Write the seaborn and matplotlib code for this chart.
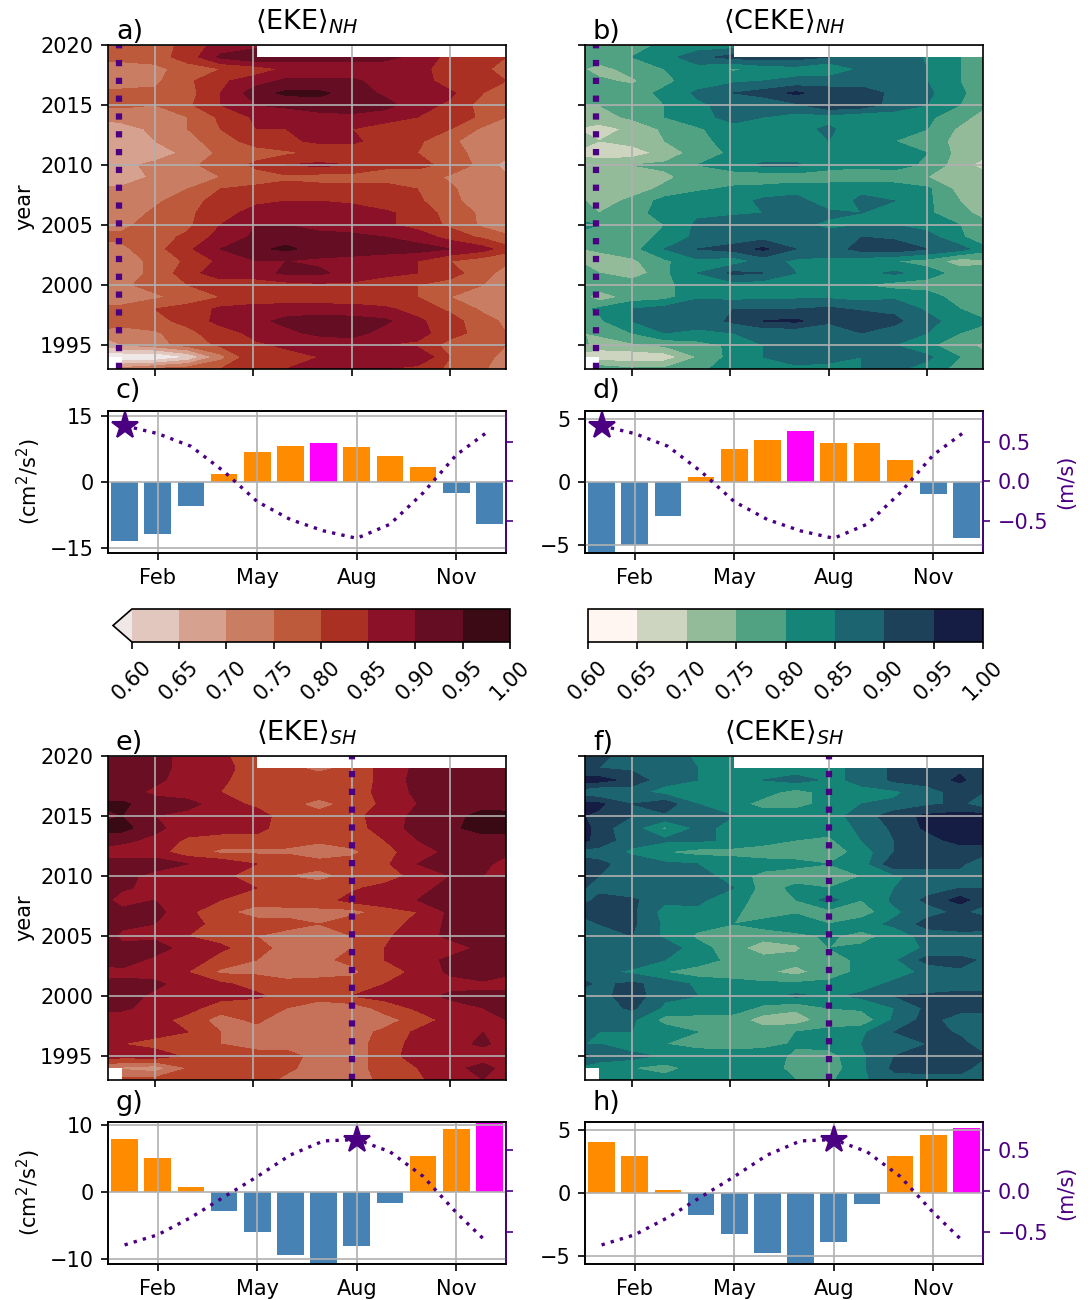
import numpy as np
import matplotlib
matplotlib.use('Agg')
import matplotlib.pyplot as plt
import seaborn as sns

nan = float('nan')
W, H = 1088, 1300

# grid of the hovmoeller panels, rows run from the top of the panel down
month_pos = [-0.43, 0, 1, 2, 3, 4.1, 5, 6, 7, 8, 9, 10, 11, 11.7]
years = list(range(2020, 1992, -1))

eke_nh = [
    [77, 77, 77, 82, 87, 88, nan, nan, nan, nan, nan, nan, nan, nan],
    [77, 77, 78, 82, 91, 95, 92, 92, 92, 91, 89, 83, 82, 80],
    [72, 72, 73, 78, 80, 82, 86, 87, 87, 88, 87, 82, 81, 78],
    [73, 73, 74, 79, 84, 88, 91, 91, 91, 88, 88, 82, 81, 80],
    [76, 76, 76, 78, 85, 93, 96, 96, 93, 89, 88, 86, 80, 77],
    [76, 76, 75, 79, 85, 90, 91, 93, 95, 92, 87, 84, 78, 76],
    [71, 72, 74, 75, 81, 86, 87, 88, 88, 87, 85, 83, 79, 75],
    [68, 68, 71, 75, 80, 85, 85, 86, 85, 83, 82, 80, 74, 70],
    [67, 67, 70, 73, 78, 82, 84, 86, 86, 83, 81, 76, 72, 71],
    [66, 67, 68, 71, 76, 78, 79, 81, 82, 81, 80, 77, 73, 72],
    [68, 69, 71, 74, 77, 81, 85, 86, 85, 81, 81, 79, 73, 68],
    [66, 67, 71, 73, 75, 78, 79, 78, 78, 78, 78, 74, 72, 71],
    [71, 71, 72, 75, 80, 81, 82, 82, 82, 82, 80, 76, 71, 70],
    [72, 72, 74, 78, 82, 84, 85, 85, 84, 82, 81, 76, 73, 72],
    [72, 72, 76, 79, 83, 87, 87, 87, 88, 86, 83, 78, 74, 71],
    [74, 74, 77, 79, 85, 90, 90, 88, 86, 86, 83, 79, 74, 72],
    [76, 76, 78, 81, 87, 91, 93, 92, 92, 90, 88, 83, 79, 76],
    [73, 74, 78, 84, 90, 94, 96, 93, 93, 93, 92, 90, 87, 82],
    [72, 73, 76, 81, 86, 90, 90, 89, 88, 86, 85, 80, 77, 76],
    [72, 73, 76, 83, 88, 88, 91, 91, 88, 86, 85, 82, 77, 73],
    [73, 74, 77, 80, 82, 82, 83, 84, 84, 83, 80, 78, 75, 71],
    [72, 73, 74, 77, 80, 82, 81, 81, 82, 81, 80, 75, 73, 71],
    [76, 76, 80, 82, 86, 87, 88, 88, 87, 86, 83, 79, 74, 71],
    [78, 78, 79, 81, 87, 89, 91, 92, 92, 91, 86, 82, 77, 74],
    [73, 72, 74, 79, 82, 87, 89, 91, 92, 88, 87, 82, 78, 75],
    [67, 70, 73, 77, 81, 84, 86, 87, 87, 85, 84, 78, 76, 75],
    [55, 55, 54, 60, 73, 85, 83, 85, 90, 87, 90, 80, 78, 72],
    [nan, 72, 76, 78, 80, 85, 85, 86, 86, 85, 83, 79, 76, 70],
]

ceke_nh = [
    [76, 76, 78, 81, 82, 82, nan, nan, nan, nan, nan, nan, nan, nan],
    [77, 78, 80, 83, 88, 92, 92, 92, 90, 88, 90, 84, 80, 78],
    [75, 73, 77, 80, 83, 79, 82, 83, 80, 86, 89, 85, 80, 76],
    [76, 76, 74, 79, 82, 84, 85, 86, 88, 88, 87, 85, 80, 75],
    [77, 77, 78, 81, 86, 90, 92, 96, 92, 92, 89, 86, 81, 77],
    [75, 75, 77, 80, 84, 87, 86, 89, 94, 93, 88, 85, 80, 76],
    [74, 73, 76, 80, 84, 86, 85, 83, 83, 81, 82, 81, 77, 73],
    [69, 68, 71, 76, 79, 84, 85, 83, 86, 81, 81, 80, 74, 72],
    [72, 70, 72, 75, 77, 84, 85, 81, 85, 81, 80, 78, 73, 72],
    [68, 66, 67, 72, 77, 81, 81, 81, 80, 80, 83, 80, 73, 72],
    [74, 74, 75, 76, 80, 83, 86, 86, 82, 81, 82, 79, 72, 68],
    [74, 74, 72, 74, 77, 77, 76, 77, 77, 77, 77, 75, 72, 73],
    [73, 74, 73, 76, 79, 81, 82, 83, 83, 84, 83, 81, 73, 72],
    [75, 73, 76, 82, 84, 83, 86, 87, 82, 86, 85, 81, 75, 72],
    [77, 75, 78, 82, 84, 84, 85, 86, 86, 85, 85, 81, 76, 74],
    [81, 80, 77, 80, 86, 89, 89, 86, 84, 85, 85, 83, 80, 76],
    [78, 78, 76, 82, 86, 87, 88, 85, 87, 90, 89, 87, 81, 76],
    [75, 76, 78, 85, 90, 92, 96, 90, 87, 92, 93, 90, 87, 82],
    [74, 72, 74, 79, 84, 82, 87, 84, 84, 82, 80, 78, 72, 74],
    [77, 75, 71, 79, 85, 91, 90, 85, 85, 83, 86, 82, 78, 77],
    [78, 78, 79, 79, 82, 83, 82, 83, 80, 80, 78, 78, 76, 78],
    [76, 72, 77, 78, 84, 83, 84, 84, 84, 83, 84, 82, 78, 76],
    [79, 81, 85, 87, 90, 90, 90, 90, 91, 89, 89, 84, 80, 76],
    [78, 79, 85, 87, 87, 91, 95, 96, 91, 95, 91, 87, 82, 81],
    [75, 76, 80, 85, 84, 85, 86, 86, 86, 90, 88, 85, 80, 78],
    [76, 72, 74, 76, 78, 81, 85, 86, 87, 86, 85, 81, 77, 74],
    [66, 67, 66, 67, 75, 82, 85, 87, 86, 85, 86, 86, 80, 76],
    [nan, 78, 76, 76, 79, 82, 84, 84, 84, 85, 86, 83, 78, 77],
]

eke_sh = [
    [91, 91, 91, 89, 86, 82, nan, nan, nan, nan, nan, nan, nan, nan],
    [92, 92, 92, 88, 87, 82, 81, 79, 81, 87, 91, 92, 93, 92],
    [91, 91, 91, 88, 86, 82, 82, 82, 83, 86, 92, 91, 94, 92],
    [92, 92, 89, 87, 85, 82, 81, 83, 82, 87, 91, 92, 91, 91],
    [96, 96, 92, 92, 87, 84, 82, 78, 82, 86, 90, 91, 93, 92],
    [94, 95, 90, 88, 88, 87, 83, 82, 83, 88, 91, 93, 97, 97],
    [97, 97, 91, 88, 87, 87, 82, 82, 83, 87, 92, 94, 97, 97],
    [92, 91, 89, 84, 83, 83, 82, 81, 82, 85, 90, 92, 93, 93],
    [88, 88, 87, 82, 79, 79, 79, 77, 79, 83, 88, 91, 92, 92],
    [92, 92, 93, 90, 89, 85, 85, 82, 82, 84, 90, 91, 92, 87],
    [92, 92, 88, 88, 86, 83, 80, 78, 82, 82, 87, 90, 90, 90],
    [91, 91, 88, 87, 87, 85, 82, 83, 84, 87, 89, 91, 92, 92],
    [91, 87, 90, 87, 85, 83, 83, 82, 87, 89, 90, 92, 93, 93],
    [93, 92, 92, 86, 82, 77, 78, 79, 78, 82, 85, 91, 92, 92],
    [91, 91, 90, 87, 83, 83, 82, 80, 84, 82, 87, 91, 95, 93],
    [92, 89, 89, 85, 83, 80, 78, 78, 80, 84, 88, 91, 91, 91],
    [91, 91, 92, 88, 86, 82, 78, 78, 80, 85, 87, 88, 91, 91],
    [93, 92, 89, 88, 83, 80, 78, 79, 81, 85, 88, 91, 91, 90],
    [87, 89, 88, 85, 79, 79, 77, 78, 79, 83, 86, 91, 93, 91],
    [92, 91, 91, 88, 86, 83, 82, 82, 82, 85, 87, 88, 89, 88],
    [92, 92, 89, 88, 87, 86, 83, 83, 85, 87, 88, 91, 91, 92],
    [91, 91, 88, 87, 82, 81, 80, 76, 77, 82, 86, 88, 90, 91],
    [88, 87, 87, 83, 78, 81, 77, 77, 75, 78, 82, 87, 88, 90],
    [90, 88, 87, 85, 80, 78, 79, 78, 78, 81, 86, 87, 90, 88],
    [88, 85, 83, 85, 80, 78, 78, 78, 78, 82, 87, 88, 91, 88],
    [88, 87, 88, 84, 82, 82, 82, 78, 77, 83, 87, 88, 87, 86],
    [76, 74, 72, 80, 82, 84, 81, 78, 78, 82, 85, 88, 92, 88],
    [nan, 82, 82, 82, 82, 82, 79, 78, 78, 81, 84, 88, 90, 84],
]

ceke_sh = [
    [93, 91, 88, 88, 84, 83, nan, nan, nan, nan, nan, nan, nan, nan],
    [90, 90, 89, 86, 85, 82, 82, 82, 84, 86, 91, 92, 94, 94],
    [97, 97, 93, 87, 85, 82, 85, 87, 84, 86, 91, 92, 96, 92],
    [87, 85, 87, 83, 80, 82, 82, 78, 82, 84, 84, 88, 92, 90],
    [96, 96, 90, 93, 85, 82, 78, 78, 82, 85, 86, 89, 91, 87],
    [95, 94, 90, 89, 87, 85, 83, 83, 83, 87, 93, 96, 97, 97],
    [97, 92, 87, 79, 86, 84, 83, 83, 82, 86, 91, 96, 97, 97],
    [96, 93, 87, 86, 86, 84, 83, 80, 79, 85, 90, 93, 97, 97],
    [88, 88, 84, 80, 78, 78, 76, 78, 77, 82, 90, 92, 92, 92],
    [92, 91, 88, 86, 85, 83, 83, 81, 80, 82, 94, 92, 91, 86],
    [91, 90, 87, 86, 87, 83, 78, 78, 79, 80, 84, 87, 88, 87],
    [90, 89, 85, 87, 87, 85, 78, 81, 80, 82, 85, 88, 90, 90],
    [89, 91, 91, 86, 86, 82, 78, 80, 87, 80, 86, 91, 97, 92],
    [92, 92, 91, 83, 84, 81, 77, 79, 78, 77, 84, 88, 91, 88],
    [88, 90, 91, 84, 82, 80, 82, 85, 80, 83, 86, 92, 93, 94],
    [88, 86, 90, 84, 79, 76, 77, 78, 81, 78, 82, 87, 88, 87],
    [86, 86, 87, 88, 82, 77, 72, 74, 80, 81, 81, 86, 86, 87],
    [90, 90, 88, 85, 83, 78, 77, 77, 78, 81, 84, 92, 92, 89],
    [87, 86, 84, 80, 77, 77, 76, 73, 78, 81, 83, 86, 89, 90],
    [91, 89, 91, 88, 84, 82, 81, 81, 81, 83, 86, 86, 87, 87],
    [86, 88, 93, 86, 85, 85, 83, 86, 84, 86, 90, 91, 92, 92],
    [87, 87, 91, 84, 84, 82, 79, 76, 80, 81, 85, 91, 92, 92],
    [86, 86, 86, 78, 77, 78, 72, 72, 78, 76, 86, 92, 87, 87],
    [86, 85, 85, 83, 80, 78, 78, 80, 81, 84, 90, 93, 89, 88],
    [85, 85, 81, 80, 78, 77, 77, 81, 82, 85, 87, 90, 92, 87],
    [91, 88, 87, 84, 83, 83, 85, 78, 78, 84, 90, 93, 93, 91],
    [83, 82, 80, 78, 82, 83, 83, 78, 77, 84, 91, 92, 93, 87],
    [nan, 85, 82, 82, 82, 83, 82, 80, 79, 84, 88, 88, 87, 86],
]

# monthly bars (anomaly from the annual mean)
months = ['Jan', 'Feb', 'Mar', 'Apr', 'May', 'Jun', 'Jul', 'Aug', 'Sep', 'Oct', 'Nov', 'Dec']
bars_c = [-13.4, -11.8, -5.45, 1.75, 6.75, 8.1, 8.8, 7.9, 5.8, 3.3, -2.5, -9.5]
bars_d = [-5.7, -4.95, -2.65, 0.36, 2.63, 3.33, 4.04, 3.1, 3.1, 1.77, -0.94, -4.38]
bars_g = [7.9, 5.07, 0.75, -2.84, -6.07, -9.4, -10.9, -8.16, -1.6, 5.37, 9.4, 10.4]
bars_h = [4.06, 2.89, 0.23, -1.77, -3.26, -4.74, -5.7, -3.88, -0.83, 2.89, 4.6, 5.15]

# jet speed anomaly on the right hand axis
line_x = [0, 1, 2, 3, 4, 5, 6, 7, 8, 9, 10, 10.87]
line_nh = [0.70, 0.60, 0.44, 0.12, -0.26, -0.487, -0.63, -0.724, -0.547, -0.15, 0.33, 0.60]
line_sh = [-0.665, -0.54, -0.327, -0.073, 0.177, 0.444, 0.617, 0.633, 0.484, 0.18, -0.266, -0.61]

levels = [0.60, 0.65, 0.70, 0.75, 0.80, 0.85, 0.90, 0.95, 1.00]
amp_ext = ['#f0e8e6', '#e2c7bf', '#d7a18f', '#c97d62', '#bc5a3b', '#aa3024', '#8b1128', '#640d23', '#3b0a14']
amp_8 = ['#f0e8e6', '#dcb5a7', '#d08f78', '#c6725a', '#b7432b', '#951426', '#6a0e23', '#3a0a14']
tempo_8 = ['#fff6f2', '#cdd4bf', '#93ba99', '#51a183', '#148577', '#1b6470', '#1e415a', '#151d44']

INDIGO = '#4b0082'


def axes_px(left, top, right, bottom):
    return plt.gcf().add_axes([left / W, 1 - bottom / H, (right - left) / W, (bottom - top) / H])


def panel_label(ax, text, off=3):
    ax.annotate(text, xy=(0.02, 1), xycoords='axes fraction', xytext=(0, off),
                textcoords='offset points', fontsize=13)


def hovmoeller(box, values, colors, title, letter, mark_x, left_side, extend='neither'):
    ax = axes_px(*box)
    z = np.array(values, dtype=float)[::-1] / 100
    cs = ax.contourf(month_pos, years[::-1], z, levels=levels, colors=colors,
                     extend=extend, corner_mask=False)
    ax.set_xlim(-0.43, 11.7)
    ax.set_ylim(1993, 2020)
    ax.set_xticks([1, 4, 7, 10])
    ax.set_xticklabels([])
    ax.set_yticks([1995, 2000, 2005, 2010, 2015, 2020])
    if left_side:
        ax.set_ylabel('year', labelpad=3)
    else:
        ax.set_yticklabels([])
    ax.grid(True)
    ax.axvline(mark_x, color=INDIGO, lw=3, linestyle=(0, (1, 1.85)))
    ax.set_title(title, fontsize=13, pad=7.5)
    panel_label(ax, letter, off=3)
    return cs


def seasonal(box, values, line, star_i, ylim, yticks, twin_lim, letter, left_side):
    ax = axes_px(*box)
    top = max(values)
    colors = ['magenta' if v == top else ('darkorange' if v > 0 else 'steelblue') for v in values]
    sns.barplot(x=months, y=values, hue=months, palette=colors, saturation=1, legend=False, ax=ax)
    ax.set_ylim(*ylim)
    ax.set_yticks(yticks)
    ax.set_xticks([1, 4, 7, 10])
    ax.set_xticklabels(['Feb', 'May', 'Aug', 'Nov'])
    ax.set_xlabel('')
    ax.grid(True)
    ax.set_axisbelow(False)
    ax.set_ylabel(r'(cm$^2$/s$^2$)' if left_side else '')
    if left_side:
        ax.yaxis.set_label_coords(-0.163, 0.5)

    tw = ax.twinx()
    sns.lineplot(x=line_x, y=line, color=INDIGO, lw=1.6, linestyle=(0, (1, 1.85)), sort=False, ax=tw)
    tw.plot(line_x[star_i], line[star_i], marker='*', ms=13, color=INDIGO)
    tw.set_ylim(*twin_lim)
    tw.set_yticks([-0.5, 0, 0.5])
    tw.tick_params(axis='y', colors=INDIGO)
    tw.spines['right'].set_color(INDIGO)
    if left_side:
        tw.set_yticklabels([])
        tw.set_ylabel('')
    else:
        tw.set_yticklabels(['\u22120.5', '0.0', '0.5'])
        tw.set_ylabel('(m/s)', color=INDIGO)
    ax.set_xlim(-0.5, 11.5)
    panel_label(ax, letter, off=6)


fig = plt.figure(figsize=(W / 150, H / 150), dpi=150)

cs_a = hovmoeller((108, 45, 506, 369), eke_nh, amp_ext, r'$\langle$EKE$\rangle_{NH}$', 'a)', -0.1, True, extend='min')
cs_b = hovmoeller((585, 45, 983, 369), ceke_nh, tempo_8, r'$\langle$CEKE$\rangle_{NH}$', 'b)', -0.1, False)
hovmoeller((108, 756, 506, 1080), eke_sh, amp_8, r'$\langle$EKE$\rangle_{SH}$', 'e)', 7, True)
hovmoeller((585, 756, 983, 1080), ceke_sh, tempo_8, r'$\langle$CEKE$\rangle_{SH}$', 'f)', 7, False)

seasonal((108, 411, 506, 553), bars_c, line_nh, 0, (-16.1, 16.1), [-15, 0, 15], (-0.91, 0.886), 'c)', True)
seasonal((585, 411, 983, 553), bars_d, line_nh, 0, (-5.6, 5.6), [-5, 0, 5], (-0.91, 0.886), 'd)', False)
seasonal((108, 1122, 506, 1264), bars_g, line_sh, 7, (-10.8, 10.5), [-10, 0, 10], (-0.9, 0.85), 'g)', True)
seasonal((585, 1122, 983, 1264), bars_h, line_sh, 7, (-5.6, 5.6), [-5, 0, 5], (-0.9, 0.85), 'h)', False)

cax_l = axes_px(113, 609, 510, 642)
cb_l = fig.colorbar(cs_a, cax=cax_l, orientation='horizontal', ticks=levels, format='%.2f')
cb_l.ax.tick_params(axis='x', labelrotation=45)
cax_r = axes_px(588, 609, 983, 642)
cb_r = fig.colorbar(cs_b, cax=cax_r, orientation='horizontal', ticks=levels, format='%.2f')
cb_r.ax.tick_params(axis='x', labelrotation=45)

fig.savefig('out.png', dpi=150)
